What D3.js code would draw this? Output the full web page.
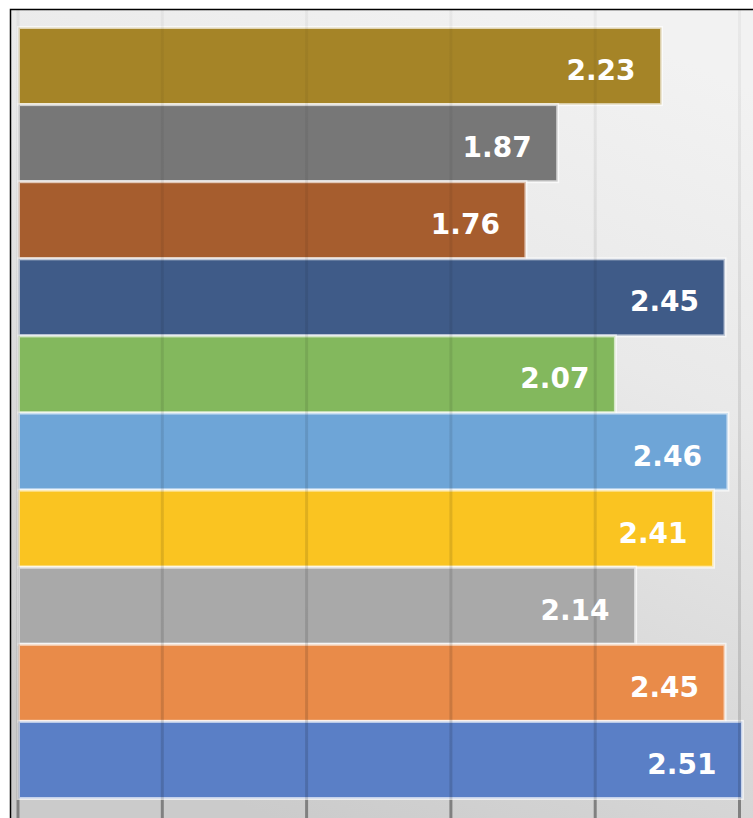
<!DOCTYPE html>
<meta charset="utf-8">
<body style="margin:0; background:#fff;">
<script src="https://d3js.org/d3.v7.min.js"></script>
<svg id="chart" width="753" height="818"></svg>
<script>
// values read top to bottom
var labels = ["2.23", "1.87", "1.76", "2.45", "2.07", "2.46", "2.41", "2.14", "2.45", "2.51"];
var values = [2.23, 1.87, 1.76, 2.45, 2.07, 2.46, 2.41, 2.14, 2.45, 2.51];
var colors = ["#a58427", "#777777", "#a65d2e", "#3f5b88", "#83b85d", "#6ea5d7", "#fac421", "#a9a9a9", "#e98b49", "#5a7fc6"];
var ticks = [0, 0.5, 1, 1.5, 2, 2.5];

var svg = d3.select("#chart");
var width = 753, height = 818;

var defs = svg.append("defs");
var bg = defs.append("linearGradient").attr("id", "bg")
    .attr("x1", "75%").attr("y1", "0%").attr("x2", "35%").attr("y2", "100%");
bg.append("stop").attr("offset", "0%").attr("stop-color", "#f2f2f2");
bg.append("stop").attr("offset", "35%").attr("stop-color", "#e9e9e9");
bg.append("stop").attr("offset", "100%").attr("stop-color", "#cbcbcb");

var gg = defs.append("linearGradient").attr("id", "grid")
    .attr("gradientUnits", "userSpaceOnUse")
    .attr("x1", 0).attr("y1", 9).attr("x2", 0).attr("y2", 818);
gg.append("stop").attr("offset", "0%").attr("stop-color", "#000").attr("stop-opacity", 0.04);
gg.append("stop").attr("offset", "100%").attr("stop-color", "#000").attr("stop-opacity", 0.15);

// frame
svg.append("rect").attr("x", 10).attr("y", 9).attr("width", width - 10).attr("height", height - 9)
    .attr("fill", "url(#bg)");
svg.append("path").attr("d", "M10.5,818V9.5H753")
    .attr("fill", "none").attr("stroke", "#000").attr("stroke-width", 1.5);

var x = d3.scaleLinear().domain([0, 2.5]).range([18, 739.5]);
var y = d3.scaleBand().domain(d3.range(values.length)).range([27.5, 798.5]).padding(0);

// bars
svg.append("g").selectAll("rect").data(values).join("rect")
    .attr("x", x(0) + 0.5)
    .attr("y", (d, i) => y(i))
    .attr("width", d => x(d) - x(0) - 0.5)
    .attr("height", y.bandwidth())
    .attr("fill", (d, i) => colors[i])
    .attr("stroke", "rgba(255,255,255,0.65)")
    .attr("stroke-width", 3);

// grid lines + tick marks over bars
svg.append("g").selectAll("line").data(ticks).join("line")
    .attr("x1", d => x(d)).attr("x2", d => x(d))
    .attr("y1", 10).attr("y2", 800)
    .attr("stroke", "url(#grid)").attr("stroke-width", 3);
svg.append("g").selectAll("line").data(ticks).join("line")
    .attr("x1", d => x(d)).attr("x2", d => x(d))
    .attr("y1", 800).attr("y2", 818)
    .attr("stroke", "#808080").attr("stroke-width", 3);

// value labels
svg.append("g").selectAll("text").data(values).join("text")
    .attr("x", d => x(d) - 26)
    .attr("y", (d, i) => y(i) + y.bandwidth() / 2 + 14)
    .attr("text-anchor", "end")
    .attr("fill", "#fff")
    .style("font-family", "DejaVu Sans")
    .style("font-weight", "bold")
    .style("font-size", "28px")
    .text((d, i) => labels[i]);
</script>
</body>
